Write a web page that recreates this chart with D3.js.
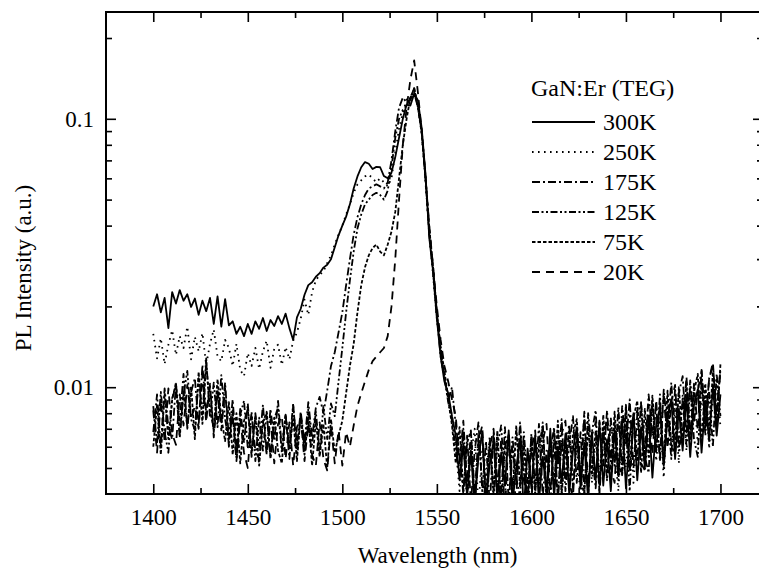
<!DOCTYPE html>
<html><head><meta charset="utf-8">
<script src="https://cdn.jsdelivr.net/npm/d3@7"></script>
<style>body{margin:0;background:#fff}</style>
</head><body><svg id="c" width="759" height="573"></svg>
<script>
// ---------- DATA ----------
const wavelength = [
1400,1402,1404,1406,1408,1410,1412,1414,1416,1418,
1420,1422,1424,1426,1428,1430,1432,1434,1436,1438,
1440,1442,1444,1446,1448,1450,1452,1454,1456,1458,
1460,1462,1464,1466,1468,1470,1472,1474,1476,1478,
1480,1482,1484,1486,1488,1490,1492,1494,1496,1498,
1500,1502,1504,1506,1508,1510,1512,1514,1516,1518,
1520,1522,1524,1526,1528,1530,1532,1534,1536,1538,
1540,1542,1544,1546,1548,1550,1552,1554,1556,1558,
1560,1562,1564,1566,1568,1570,1572,1574,1576,1578,
1580,1582,1584,1586,1588,1590,1592,1594,1596,1598,
1600,1602,1604,1606,1608,1610,1612,1614,1616,1618,
1620,1622,1624,1626,1628,1630,1632,1634,1636,1638,
1640,1642,1644,1646,1648,1650,1652,1654,1656,1658,
1660,1662,1664,1666,1668,1670,1672,1674,1676,1678,
1680,1682,1684,1686,1688,1690,1692,1694,1696,1698,
1700];

const pl300K = [
0.0200,0.0222,0.0190,0.0215,0.0166,0.0226,0.0205,0.0230,0.0210,0.0222,
0.0199,0.0214,0.0186,0.0210,0.0192,0.0215,0.0172,0.0218,0.0168,0.0213,
0.0170,0.0176,0.0158,0.0168,0.0155,0.0172,0.0158,0.0176,0.0165,0.0181,
0.0162,0.0178,0.0169,0.0184,0.0172,0.0188,0.0166,0.0150,0.0182,0.0196,
0.0221,0.0240,0.0246,0.0258,0.0266,0.0279,0.0286,0.0300,0.0332,0.0368,
0.0400,0.0432,0.0480,0.0550,0.0610,0.0660,0.0690,0.0680,0.0650,0.0662,
0.0660,0.0612,0.0600,0.0630,0.0720,0.0850,0.1000,0.1130,0.1120,0.1240,
0.1170,0.0920,0.0620,0.0360,0.0270,0.0180,0.0130,0.0105,0.0095,0.0078,
0.0066,0.0045,0.0061,0.0039,0.0058,0.0036,0.0055,0.0068,0.0037,0.0052,
0.0063,0.0038,0.0057,0.0043,0.0069,0.0037,0.0050,0.0064,0.0035,0.0059,
0.0042,0.0066,0.0038,0.0055,0.0041,0.0070,0.0039,0.0060,0.0044,0.0067,
0.0040,0.0058,0.0071,0.0042,0.0062,0.0038,0.0068,0.0045,0.0074,0.0043,
0.0064,0.0041,0.0070,0.0047,0.0076,0.0042,0.0066,0.0079,0.0045,0.0071,
0.0050,0.0078,0.0046,0.0072,0.0084,0.0051,0.0077,0.0090,0.0054,0.0083,
0.0058,0.0092,0.0055,0.0086,0.0098,0.0057,0.0089,0.0063,0.0101,0.0066,
0.0094];

const pl250K = [
0.0158,0.0128,0.0152,0.0122,0.0144,0.0163,0.0132,0.0155,0.0140,0.0168,
0.0127,0.0154,0.0136,0.0159,0.0121,0.0145,0.0164,0.0130,0.0125,0.0150,
0.0140,0.0120,0.0145,0.0116,0.0110,0.0134,0.0120,0.0140,0.0117,0.0136,
0.0149,0.0118,0.0139,0.0144,0.0121,0.0141,0.0127,0.0149,0.0160,0.0180,
0.0212,0.0186,0.0226,0.0250,0.0262,0.0270,0.0290,0.0310,0.0340,0.0370,
0.0400,0.0440,0.0480,0.0530,0.0570,0.0590,0.0610,0.0620,0.0600,0.0580,
0.0600,0.0580,0.0560,0.0600,0.0750,0.0920,0.1050,0.1180,0.1160,0.1280,
0.1130,0.0880,0.0580,0.0370,0.0260,0.0180,0.0135,0.0110,0.0092,0.0078,
0.0060,0.0041,0.0064,0.0037,0.0056,0.0070,0.0035,0.0059,0.0046,0.0066,
0.0040,0.0067,0.0036,0.0055,0.0062,0.0039,0.0070,0.0042,0.0061,0.0038,
0.0065,0.0040,0.0057,0.0072,0.0037,0.0063,0.0043,0.0069,0.0039,0.0058,
0.0073,0.0041,0.0060,0.0038,0.0066,0.0077,0.0044,0.0063,0.0047,0.0071,
0.0045,0.0075,0.0058,0.0041,0.0072,0.0050,0.0080,0.0044,0.0068,0.0083,
0.0049,0.0070,0.0087,0.0053,0.0076,0.0046,0.0091,0.0060,0.0082,0.0052,
0.0093,0.0058,0.0080,0.0099,0.0061,0.0088,0.0104,0.0059,0.0090,0.0108,
0.0071];

const pl175K = [
0.0068,0.0094,0.0060,0.0099,0.0071,0.0064,0.0103,0.0075,0.0112,0.0070,
0.0096,0.0108,0.0072,0.0121,0.0080,0.0101,0.0068,0.0098,0.0074,0.0104,
0.0064,0.0090,0.0058,0.0083,0.0062,0.0087,0.0055,0.0080,0.0060,0.0086,
0.0057,0.0083,0.0063,0.0089,0.0059,0.0079,0.0054,0.0085,0.0061,0.0081,
0.0062,0.0088,0.0065,0.0084,0.0092,0.0080,0.0097,0.0120,0.0135,0.0160,
0.0190,0.0240,0.0300,0.0370,0.0430,0.0480,0.0520,0.0550,0.0560,0.0570,
0.0560,0.0550,0.0580,0.0700,0.0900,0.1100,0.1200,0.1150,0.1180,0.1250,
0.1100,0.0900,0.0600,0.0380,0.0280,0.0190,0.0140,0.0110,0.0090,0.0100,
0.0072,0.0056,0.0040,0.0066,0.0037,0.0058,0.0074,0.0041,0.0063,0.0036,
0.0068,0.0045,0.0039,0.0071,0.0037,0.0060,0.0043,0.0074,0.0048,0.0038,
0.0067,0.0042,0.0073,0.0039,0.0058,0.0035,0.0069,0.0050,0.0076,0.0041,
0.0061,0.0078,0.0044,0.0068,0.0040,0.0080,0.0057,0.0042,0.0075,0.0051,
0.0082,0.0053,0.0074,0.0045,0.0085,0.0061,0.0090,0.0050,0.0079,0.0087,
0.0056,0.0094,0.0066,0.0085,0.0053,0.0098,0.0070,0.0104,0.0064,0.0095,
0.0110,0.0067,0.0106,0.0074,0.0097,0.0115,0.0071,0.0108,0.0120,0.0082,
0.0116];

const pl125K = [
0.0085,0.0062,0.0096,0.0068,0.0057,0.0091,0.0101,0.0065,0.0094,0.0115,
0.0076,0.0069,0.0108,0.0079,0.0128,0.0077,0.0104,0.0071,0.0111,0.0076,
0.0062,0.0082,0.0054,0.0079,0.0089,0.0059,0.0081,0.0053,0.0077,0.0058,
0.0080,0.0055,0.0076,0.0084,0.0057,0.0078,0.0060,0.0087,0.0056,0.0079,
0.0059,0.0083,0.0061,0.0081,0.0057,0.0085,0.0064,0.0087,0.0078,0.0105,
0.0140,0.0190,0.0250,0.0320,0.0390,0.0440,0.0480,0.0500,0.0520,0.0530,
0.0520,0.0500,0.0540,0.0660,0.0850,0.1000,0.1080,0.1120,0.1200,0.1300,
0.1120,0.0900,0.0610,0.0370,0.0270,0.0185,0.0130,0.0108,0.0088,0.0075,
0.0058,0.0047,0.0070,0.0040,0.0062,0.0036,0.0067,0.0044,0.0039,0.0064,
0.0038,0.0060,0.0072,0.0043,0.0035,0.0065,0.0046,0.0039,0.0068,0.0044,
0.0037,0.0064,0.0043,0.0074,0.0039,0.0057,0.0071,0.0038,0.0063,0.0045,
0.0072,0.0042,0.0065,0.0046,0.0078,0.0039,0.0068,0.0082,0.0043,0.0070,
0.0045,0.0077,0.0051,0.0084,0.0047,0.0072,0.0041,0.0081,0.0053,0.0088,
0.0055,0.0048,0.0089,0.0057,0.0094,0.0050,0.0084,0.0054,0.0099,0.0058,
0.0092,0.0061,0.0101,0.0064,0.0055,0.0106,0.0066,0.0097,0.0060,0.0112,
0.0078];

const pl75K = [
0.0060,0.0086,0.0056,0.0095,0.0064,0.0090,0.0104,0.0066,0.0097,0.0071,
0.0101,0.0064,0.0114,0.0073,0.0124,0.0082,0.0070,0.0107,0.0077,0.0063,
0.0088,0.0056,0.0080,0.0052,0.0075,0.0083,0.0057,0.0078,0.0051,0.0074,
0.0081,0.0054,0.0077,0.0058,0.0052,0.0079,0.0059,0.0076,0.0053,0.0080,
0.0056,0.0077,0.0051,0.0075,0.0055,0.0073,0.0050,0.0076,0.0057,0.0066,
0.0075,0.0095,0.0120,0.0145,0.0190,0.0240,0.0280,0.0310,0.0330,0.0340,
0.0320,0.0310,0.0340,0.0380,0.0450,0.0600,0.0800,0.1000,0.1200,0.1300,
0.1100,0.0880,0.0600,0.0390,0.0280,0.0190,0.0140,0.0115,0.0090,0.0072,
0.0052,0.0071,0.0041,0.0062,0.0069,0.0038,0.0058,0.0066,0.0035,0.0063,
0.0041,0.0069,0.0037,0.0060,0.0066,0.0039,0.0072,0.0043,0.0062,0.0036,
0.0066,0.0040,0.0061,0.0071,0.0038,0.0064,0.0042,0.0075,0.0040,0.0060,
0.0042,0.0067,0.0076,0.0045,0.0040,0.0072,0.0047,0.0069,0.0041,0.0079,
0.0050,0.0046,0.0081,0.0052,0.0047,0.0086,0.0050,0.0077,0.0089,0.0048,
0.0083,0.0055,0.0093,0.0058,0.0087,0.0053,0.0097,0.0061,0.0056,0.0100,
0.0062,0.0105,0.0066,0.0096,0.0112,0.0063,0.0101,0.0068,0.0114,0.0072,
0.0122];

const pl20K = [
0.0082,0.0057,0.0089,0.0063,0.0099,0.0067,0.0061,0.0094,0.0072,0.0102,
0.0076,0.0085,0.0070,0.0112,0.0074,0.0103,0.0065,0.0095,0.0069,0.0099,
0.0060,0.0079,0.0053,0.0076,0.0057,0.0050,0.0078,0.0058,0.0054,0.0075,
0.0056,0.0076,0.0052,0.0073,0.0078,0.0054,0.0074,0.0051,0.0071,0.0077,
0.0053,0.0073,0.0056,0.0051,0.0074,0.0054,0.0049,0.0072,0.0052,0.0069,
0.0051,0.0068,0.0060,0.0072,0.0085,0.0095,0.0105,0.0116,0.0125,0.0130,
0.0135,0.0140,0.0155,0.0200,0.0300,0.0500,0.0800,0.1100,0.1400,0.1650,
0.1250,0.0900,0.0600,0.0400,0.0280,0.0200,0.0150,0.0120,0.0105,0.0090,
0.0078,0.0052,0.0075,0.0044,0.0068,0.0040,0.0063,0.0072,0.0038,0.0060,
0.0070,0.0040,0.0064,0.0034,0.0068,0.0044,0.0039,0.0071,0.0045,0.0037,
0.0058,0.0069,0.0039,0.0063,0.0073,0.0041,0.0062,0.0038,0.0067,0.0075,
0.0044,0.0039,0.0070,0.0047,0.0081,0.0043,0.0066,0.0074,0.0040,0.0065,
0.0076,0.0050,0.0044,0.0079,0.0051,0.0084,0.0048,0.0073,0.0082,0.0052,
0.0049,0.0086,0.0056,0.0090,0.0054,0.0095,0.0059,0.0088,0.0102,0.0060,
0.0067,0.0110,0.0064,0.0103,0.0069,0.0116,0.0071,0.0107,0.0124,0.0074,
0.0117];

const seriesNames = ["300K", "250K", "175K", "125K", "75K", "20K"];
const seriesValues = [pl300K, pl250K, pl175K, pl125K, pl75K, pl20K];
const legendTitle = "GaN:Er (TEG)";
const xMajorTicks = [1400, 1450, 1500, 1550, 1600, 1650, 1700];
const xMinorTicks = [1425, 1475, 1525, 1575, 1625, 1675];
const yMajorTicks = [0.01, 0.1];
const yMajorLabels = ["0.01", "0.1"];
const yMinorTicks = [0.005, 0.006, 0.007, 0.008, 0.009, 0.02, 0.03, 0.04, 0.05, 0.06, 0.07, 0.08, 0.09, 0.2];
const xTitle = "Wavelength (nm)";
const yTitle = "PL Intensity (a.u.)";

// ---------- STYLE ----------
const dashStyles = {
  "300K": null,
  "250K": "1.6,4.4",
  "175K": "8,3,2,3",
  "125K": "7,2.5,2,2.5,2,2.5",
  "75K": "3.5,2",
  "20K": "8,6"
};
const FONT = "'Liberation Serif','Times New Roman',serif";
const m = {left: 106, top: 12, right: 763, bottom: 494};

const svg = d3.select("#c");
const x = d3.scaleLinear().domain([1375, 1722.5]).range([m.left, m.right]);
const y = d3.scaleLog().domain([0.004, 0.25]).range([m.bottom, m.top]);

svg.append("defs").append("clipPath").attr("id", "clip")
  .append("rect").attr("x", m.left).attr("y", m.top)
  .attr("width", m.right - m.left).attr("height", m.bottom - m.top);

// data lines
const line = d3.line().x((d, i) => x(wavelength[i])).y(d => y(d));
const gData = svg.append("g").attr("clip-path", "url(#clip)");
seriesNames.forEach((name, k) => {
  gData.append("path")
    .datum(seriesValues[k])
    .attr("d", line)
    .attr("fill", "none")
    .attr("stroke", "#000")
    .attr("stroke-width", 1.8)
    .attr("stroke-linejoin", "round")
    .attr("stroke-dasharray", dashStyles[name]);
});

// axes
function styleAxis(g) {
  g.selectAll("path.domain").remove();
  g.selectAll("line").attr("stroke", "#000").attr("stroke-width", 1.6);
  g.selectAll("text").attr("font-family", FONT).attr("font-size", 23).attr("fill", "#000");
}
svg.append("g").attr("transform", `translate(0,${m.bottom})`)
  .call(d3.axisBottom(x).tickValues(xMajorTicks).tickFormat(d3.format("d")).tickSize(-10).tickPadding(15))
  .call(styleAxis);
svg.append("g").attr("transform", `translate(0,${m.bottom})`)
  .call(d3.axisBottom(x).tickValues(xMinorTicks).tickFormat("").tickSize(-6))
  .call(styleAxis);
svg.append("g").attr("transform", `translate(0,${m.top})`)
  .call(d3.axisTop(x).tickValues(xMajorTicks).tickFormat("").tickSize(-10))
  .call(styleAxis);
svg.append("g").attr("transform", `translate(0,${m.top})`)
  .call(d3.axisTop(x).tickValues(xMinorTicks).tickFormat("").tickSize(-6))
  .call(styleAxis);
svg.append("g").attr("transform", `translate(${m.left},0)`)
  .call(d3.axisLeft(y).tickValues(yMajorTicks).tickFormat((d, i) => yMajorLabels[i]).tickSize(-10).tickPadding(12))
  .call(styleAxis);
svg.append("g").attr("transform", `translate(${m.left},0)`)
  .call(d3.axisLeft(y).tickValues(yMinorTicks).tickFormat("").tickSize(-6))
  .call(styleAxis);
svg.append("g").attr("transform", `translate(${m.right},0)`)
  .call(d3.axisRight(y).tickValues(yMajorTicks).tickFormat("").tickSize(-10))
  .call(styleAxis);
svg.append("g").attr("transform", `translate(${m.right},0)`)
  .call(d3.axisRight(y).tickValues(yMinorTicks).tickFormat("").tickSize(-6))
  .call(styleAxis);

// frame
svg.append("rect").attr("x", m.left).attr("y", m.top)
  .attr("width", m.right - m.left).attr("height", m.bottom - m.top)
  .attr("fill", "none").attr("stroke", "#000").attr("stroke-width", 2);

// titles
svg.append("text").attr("x", (m.left + m.right) / 2 + 3).attr("y", 563)
  .attr("text-anchor", "middle").attr("font-family", FONT).attr("font-size", 23)
  .text(xTitle);
svg.append("text").attr("transform", `translate(31,268) rotate(-90)`)
  .attr("text-anchor", "middle").attr("font-family", FONT).attr("font-size", 23)
  .text(yTitle);

// legend
const lg = svg.append("g").attr("font-family", FONT).attr("font-size", 24);
lg.append("text").attr("x", 531).attr("y", 96).text(legendTitle);
seriesNames.forEach((name, k) => {
  const cy = 122 + k * 30;
  lg.append("line").attr("x1", 532).attr("x2", 595).attr("y1", cy).attr("y2", cy)
    .attr("stroke", "#000").attr("stroke-width", 1.8)
    .attr("stroke-dasharray", dashStyles[name]);
  lg.append("text").attr("x", 603).attr("y", cy + 8).text(name);
});
</script>
</body></html>
